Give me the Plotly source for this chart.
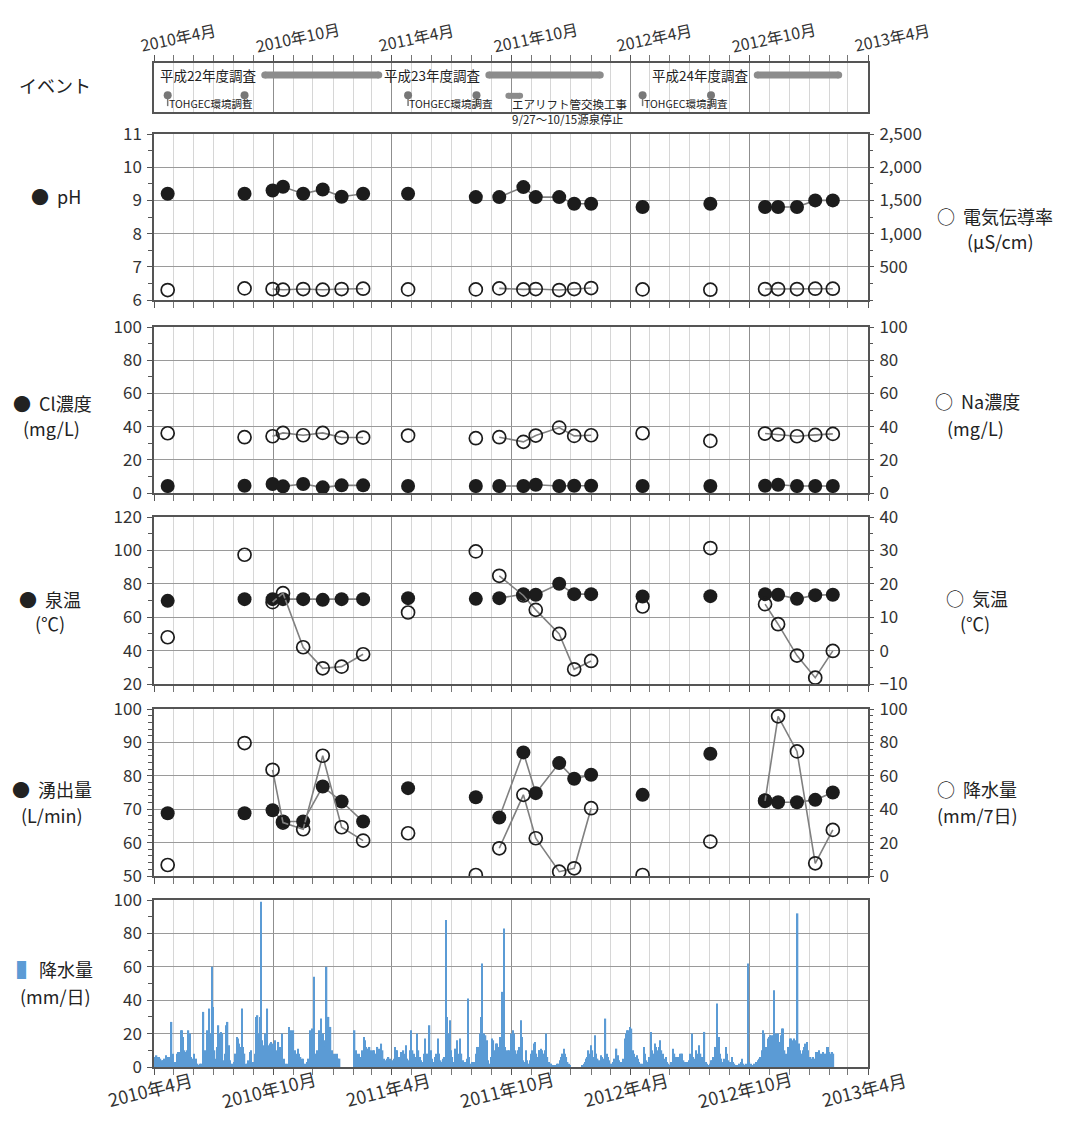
import pandas as pd
import plotly.graph_objects as go

# ---------------- data ----------------
sample_dates = ["2010-04-22", "2010-08-18", "2010-09-30", "2010-10-16", "2010-11-16", "2010-12-16",
                "2011-01-14", "2011-02-16", "2011-04-26", "2011-08-08", "2011-09-13", "2011-10-20",
                "2011-11-08", "2011-12-14", "2012-01-06", "2012-02-01", "2012-04-20", "2012-08-02",
                "2012-10-25", "2012-11-14", "2012-12-13", "2013-01-10", "2013-02-06"]
survey_group = [0, 1, 2, 2, 2, 2, 2, 2, 3, 4, 5, 5, 5, 5, 5, 5, 6, 7, 8, 8, 8, 8, 8]

ph = [9.2, 9.2, 9.3, 9.41, 9.2, 9.33, 9.11, 9.2, 9.2, 9.1, 9.1, 9.4, 9.1, 9.1, 8.9, 8.9,
      8.8, 8.9, 8.8, 8.8, 8.8, 9.0, 9.0]
conductivity = [150, 175, 165, 155, 165, 155, 165, 170, 160, 160, 175, 160, 165, 150, 165, 180,
                160, 155, 165, 165, 165, 170, 170]
cl = [4.2, 4.4, 5.4, 4.0, 5.4, 3.4, 4.6, 4.6, 4.2, 4.2, 4.2, 4.2, 5.0, 4.2, 4.4, 4.4,
      4.2, 4.2, 4.4, 5.0, 4.2, 4.2, 4.2]
na = [36.0, 33.6, 34.2, 36.2, 34.8, 36.2, 33.4, 33.4, 34.6, 33.0, 33.6, 30.8, 34.6, 39.4, 34.4, 34.8,
      36.0, 31.4, 35.8, 35.2, 34.2, 35.0, 35.6]
spring_temp = [69.8, 70.8, 70.8, 70.8, 70.8, 70.4, 70.8, 70.8, 71.4, 71.0, 71.4, 73.8, 73.4, 80.0,
               73.8, 73.8, 72.4, 72.6, 73.8, 73.4, 71.0, 73.2, 73.4]
air_temp = [4.0, 28.7, 14.5, 17.2, 1.0, -5.3, -4.8, -1.1, 11.4, 29.7, 22.4, 16.5, 12.2, 5.0,
            -5.6, -3.1, 13.2, 30.7, 13.9, 7.9, -1.5, -8.1, -0.1]
flow = [68.8, 68.8, 69.7, 66.3, 66.3, 76.8, 72.3, 66.3, 76.3, 73.6, 67.5, 87.0, 74.8, 83.8,
        79.1, 80.3, 74.3, 86.6, 72.7, 72.1, 72.1, 72.8, 75.0]
rain_7day = [6.6, 79.6, 63.6, 32.0, 28.0, 72.0, 29.2, 21.2, 25.6, 0.6, 16.6, 48.6, 22.6, 2.6,
             4.6, 40.6, 0.6, 20.6, 45.0, 95.6, 74.6, 7.6, 27.6]

# daily precipitation: day offset from 2010-04-01 and amount (mm/day)
rain_day = [0, 2, 4, 6, 8, 10, 12, 14, 16, 18, 20, 22, 24, 27, 29, 31, 33, 35, 37, 39, 41, 43, 45, 47, 49,
            51, 53, 55, 57, 59, 61, 63, 65, 67, 69, 71, 73, 76, 78, 80, 82, 84, 85, 87, 89, 91, 93, 95, 97,
            99, 101, 103, 105, 107, 109, 111, 113, 115, 117, 119, 121, 123, 125, 127, 129, 131, 133, 135,
            137, 139, 141, 143, 145, 147, 149, 151, 153, 155, 157, 159, 161, 163, 164, 166, 168, 170, 172,
            174, 176, 178, 180, 182,
            184, 186, 188, 191, 193, 196, 198, 200, 202, 204, 207, 209, 210, 212, 214, 216, 218, 221, 223,
            225, 227, 229, 231, 233, 235, 237, 240, 243, 246, 248, 250, 253, 256, 259, 261, 263, 265, 266,
            268, 271, 273, 275, 278, 281, 283, 285,
            308, 310, 312, 315, 317, 320, 322, 324, 326, 329, 331, 333, 336, 338, 340, 343, 345, 347, 349,
            351, 353, 355, 358, 360, 362, 365, 368,
            370, 372, 373, 375, 377, 379, 380, 383, 385, 387, 389, 391, 393, 395, 397, 399, 401, 404, 406,
            408, 410, 412, 414, 416, 418, 420, 423, 425, 427, 429, 431, 433, 436, 438, 440, 442, 444, 446,
            448, 450, 452, 454, 456, 458, 460, 463, 465, 467, 470, 472, 474, 476, 478, 480, 482, 484, 486,
            488, 490, 492, 494, 496, 498, 500, 502, 504, 505, 507, 509, 511, 513, 515, 517, 519, 521, 523,
            525, 527, 529, 531, 533, 535, 537, 539, 541, 543, 545, 547, 549, 551,
            553, 555, 557, 559, 561, 563, 565, 567, 569, 571, 573, 575, 577, 579, 581, 583, 585, 587, 589,
            591, 592, 594, 596, 598, 600, 602, 604, 606, 608, 610, 612, 614, 616, 619, 621, 623, 625, 627,
            629, 631, 633, 635, 637, 639,
            658, 660, 662, 664, 665, 667, 669, 671, 673, 675, 677, 679, 681, 683, 686, 688, 690, 693, 695,
            697, 699, 701, 703, 705, 707, 709, 710, 712, 714, 716, 718, 720, 723, 725, 726, 728, 731, 733,
            735,
            737, 739, 741, 743, 745, 747, 749, 752, 754, 756, 758, 760, 763, 765, 767, 769, 771, 773, 775,
            777, 779, 781, 783, 786, 788, 790, 792, 794, 797, 799, 801, 803, 805, 807, 809, 811, 813, 815,
            817, 819, 821, 823, 826, 828, 830, 832, 834, 837, 839, 841, 843, 845, 847, 849, 851, 853, 855,
            857, 859, 861, 862, 864, 866, 867, 869, 871, 873, 875, 878, 880, 882, 884, 887, 889, 891, 893,
            895, 897, 899, 901, 903, 905, 907, 909, 912,
            914, 916, 918, 920, 922, 925, 927, 929, 931, 933, 935, 937, 939, 941, 943, 944, 946, 948, 950,
            952, 954, 956, 958, 960, 962, 964, 966, 968, 970, 972, 974, 976, 978, 980, 982, 984, 986, 988,
            990, 992, 994, 996, 998, 1000, 1002, 1004, 1006, 1008, 1010, 1012, 1014, 1016, 1018, 1021,
            1023, 1025, 1027, 1029, 1031, 1033, 1035, 1037, 1039, 1041, 1043]
rain_mm = [6, 6, 7, 6, 6, 5, 4, 4, 5, 7, 6, 4, 6, 27, 8, 3, 3, 8, 9, 9, 22, 22, 18, 10, 9,
           10, 22, 20, 6, 5, 8, 4, 5, 2, 1, 2, 2, 33, 10, 8, 22, 15, 35, 20, 60, 36, 10, 5, 12,
           25, 20, 21, 20, 4, 8, 25, 27, 13, 4, 2, 2, 3, 8, 18, 17, 14, 12, 35,
           12, 8, 2, 2, 4, 9, 10, 2, 3, 8, 30, 31, 20, 30, 99, 16, 13, 20, 18,
           35, 13, 14, 15, 14,
           14, 16, 10, 15, 12, 20, 3, 5, 2, 2, 24, 20, 22, 10, 22, 10, 8, 11, 8,
           6, 5, 5, 2, 2, 3, 5, 22, 23, 54, 8, 10, 22, 29, 20, 16, 12, 60, 20,
           30, 24, 10, 8, 8, 8, 5, 5,
           22, 10, 8, 8, 6, 10, 18, 16, 12, 11, 12, 10, 10, 10, 8, 12, 11, 6, 14,
           10, 5, 4, 5, 6, 5, 4, 5,
           12, 10, 10, 5, 6, 8, 9, 10, 8, 13, 5, 4, 10, 22, 10, 8, 6, 20, 10,
           6, 4, 3, 8, 17, 6, 8, 25, 10, 5, 3, 6, 8, 17, 8, 4, 3, 5, 6,
           88, 30, 20, 28, 10, 6, 3, 11, 16, 8, 17, 8, 4, 2, 3, 5, 41, 6, 2,
           3, 2, 3, 8, 12, 12, 20, 30, 62, 10, 20, 19, 16, 4, 2, 6, 17, 16, 10,
           14, 14, 12, 18, 17, 45, 83, 12, 10, 10, 10, 8, 20, 22,
           20, 10, 8, 10, 12, 28, 18, 4, 3, 10, 4, 2, 4, 8, 10, 14, 15, 8, 6,
           10, 10, 11, 10, 8, 10, 20, 6, 3, 2, 2, 1, 1, 1, 2, 2, 4, 6, 8,
           11, 8, 6, 3, 2, 1,
           1, 2, 3, 5, 6, 10, 8, 13, 10, 6, 19, 8, 5, 4, 7, 6, 5, 29, 8,
           6, 4, 2, 2, 3, 5, 7, 11, 7, 4, 3, 3, 5, 17, 20, 22, 22, 24, 23,
           10,
           8, 6, 7, 5, 3, 2, 2, 12, 8, 4, 3, 6, 21, 10, 8, 14, 12, 10, 12,
           16, 10, 8, 5, 6, 3, 2, 1, 3, 11, 8, 6, 4, 6, 8, 8, 8, 4, 3,
           2, 3, 4, 8, 20, 6, 5, 10, 8, 13, 8, 6, 5, 21, 3, 2, 1, 2, 4,
           4, 6, 8, 12, 38, 18, 18, 8, 5, 3, 5, 12, 8, 4, 3, 6, 3, 2, 1,
           1, 1, 2, 3, 5, 2, 1, 2, 62,
           3, 2, 1, 1, 2, 3, 4, 5, 6, 10, 22, 20, 12, 8, 17, 18, 19, 19, 19,
           46, 20, 20, 20, 15, 19, 23, 23, 10, 8, 6, 12, 17, 17, 16, 17, 16, 14, 92,
           14, 10, 8, 10, 12, 14, 15, 10, 6, 6, 5, 6, 5, 9, 9, 10,
           8, 8, 9, 6, 8, 12, 12, 9, 8, 9, 8]

tick_dates = ["2010-04-01", "2010-10-01", "2011-04-01", "2011-10-01", "2012-04-01", "2012-10-01", "2013-04-01"]
tick_text = ["2010年4月", "2010年10月", "2011年4月", "2011年10月", "2012年4月", "2012年10月", "2013年4月"]

survey_names = ["平成22年度調査", "平成23年度調査", "平成24年度調査"]
survey_start = ["2010-09-18", "2011-08-28", "2012-10-13"]
survey_end = ["2011-03-12", "2012-02-15", "2013-02-15"]
tohgec_first = ["2010-04-22", "2011-04-26", "2012-04-20"]
tohgec_second = ["2010-08-18", "2011-08-09", "2012-08-03"]
tohgec_label = "TOHGEC環境調査"
airlift_period = ["2011-09-27", "2011-10-15"]
airlift_label = "エアリフト管交換工事"
airlift_note = "9/27～10/15源泉停止"

# ---------------- layout helpers ----------------
W, H = 1066, 1122
X0, X1 = 154, 868
FONT = "Noto Sans CJK JP"
TXT = "#222222"
AX = "#555555"
XR = ["2010-04-01", "2013-04-01"]


def py(p):
    return 1 - p / H


panels = {  # top, bottom in px
    "event": (63, 112),
    "ph": (134, 300),
    "cl": (327, 493),
    "temp": (517, 684),
    "flow": (709, 876),
    "rain": (900, 1067),
}


def dom(name):
    t, b = panels[name]
    return [py(b), py(t)]


def xaxis(anchor, side="bottom"):
    return dict(type="date", range=XR, domain=[X0 / W, X1 / W], anchor=anchor, side=side,
                tick0="2010-04-01", dtick="M6", showticklabels=False, automargin=False,
                ticks="outside", ticklen=6, tickcolor=AX, tickwidth=1,
                showgrid=True, gridcolor="#8f8f8f", gridwidth=1,
                minor=dict(dtick="M1", tick0="2010-04-01", showgrid=True, gridcolor="#d6d6d6",
                           gridwidth=1, ticks="outside", ticklen=6, tickcolor="#777777"),
                showline=True, linecolor=AX, linewidth=1.5, mirror=True, zeroline=False,
                fixedrange=True)


TICKFONT = dict(family=FONT, size=17, color="#333333")


def yleft(name, anchor, rng, tickvals, minor_dtick, showgrid=True):
    return dict(domain=dom(name), anchor=anchor, range=rng, tickvals=tickvals, automargin=False,
                ticks="outside", ticklen=5, tickcolor=AX, showgrid=showgrid, gridcolor="#9a9a9a",
                gridwidth=1, zeroline=False, showline=True, linecolor=AX, linewidth=1.5, mirror=True,
                minor=dict(dtick=minor_dtick, ticks="outside", ticklen=4, tickcolor=AX, showgrid=False),
                tickfont=TICKFONT, ticklabelstandoff=2)


def yright(overlay, anchor, rng, tickvals, minor_dtick, fmt=None):
    d = dict(overlaying=overlay, anchor=anchor, side="right", range=rng, tickvals=tickvals,
             automargin=False,
             ticks="outside", ticklen=5, tickcolor=AX, showgrid=False, zeroline=False,
             showline=False,
             minor=dict(dtick=minor_dtick, ticks="outside", ticklen=4, tickcolor=AX, showgrid=False),
             tickfont=TICKFONT, ticklabelstandoff=2)
    if fmt:
        d["tickformat"] = fmt
    return d


fig = go.Figure()

dates = pd.to_datetime(sample_dates)
groups = sorted(set(survey_group))


def add_series(values, xa, ya, filled):
    # connecting lines within each survey campaign
    for g in groups:
        idx = [i for i, gg in enumerate(survey_group) if gg == g]
        if len(idx) > 1:
            fig.add_trace(go.Scatter(x=[dates[i] for i in idx], y=[values[i] for i in idx],
                                     mode="lines", line=dict(color="#808080", width=1.6),
                                     xaxis=xa, yaxis=ya, hoverinfo="skip"))
    if filled:
        mk = dict(symbol="circle", size=14, color="#1c1c1c", line=dict(width=0))
    else:
        mk = dict(symbol="circle-open", size=13, color="#1c1c1c", line=dict(width=1.7))
    fig.add_trace(go.Scatter(x=dates, y=values, mode="markers", marker=mk, xaxis=xa, yaxis=ya))


add_series(conductivity, "x2", "y3", False)
add_series(ph, "x2", "y2", True)
add_series(na, "x3", "y5", False)
add_series(cl, "x3", "y4", True)
add_series(air_temp, "x4", "y7", False)
add_series(spring_temp, "x4", "y6", True)
add_series(rain_7day, "x5", "y9", False)
add_series(flow, "x5", "y8", True)

rain_dates = pd.Timestamp("2010-04-01") + pd.to_timedelta(rain_day, unit="D")
fig.add_trace(go.Bar(x=rain_dates, y=rain_mm, width=2.1 * 86400000, marker=dict(color="#5b9bd5", line=dict(width=0)),
                     xaxis="x6", yaxis="y10"))

# ---------------- event panel ----------------
EV_GRAY = "#8c8c8c"
for s, e in zip(survey_start, survey_end):
    fig.add_trace(go.Scatter(x=[s, e], y=[0.755, 0.755], mode="lines+markers",
                             line=dict(color=EV_GRAY, width=7), marker=dict(size=7, color=EV_GRAY),
                             xaxis="x", yaxis="y"))
for d in tohgec_first + tohgec_second:
    fig.add_trace(go.Scatter(x=[d, d], y=[0.34, 0.12], mode="lines", line=dict(color="#777777", width=1.5),
                             xaxis="x", yaxis="y"))
fig.add_trace(go.Scatter(x=tohgec_first + tohgec_second, y=[0.34] * 6, mode="markers",
                         marker=dict(size=8, color="#777777"), xaxis="x", yaxis="y"))
fig.add_trace(go.Scatter(x=airlift_period, y=[0.33, 0.33], mode="lines+markers",
                         line=dict(color=EV_GRAY, width=6), marker=dict(size=6, color=EV_GRAY),
                         xaxis="x", yaxis="y"))

annotations = []
for name, s in zip(survey_names, survey_start):
    annotations.append(dict(x=s, y=0.755, xref="x", yref="y", text=name, showarrow=False,
                            xanchor="right", yanchor="middle", xshift=-7,
                            font=dict(family=FONT, size=13.5, color=TXT)))
for d in tohgec_first:
    annotations.append(dict(x=d, y=0.17, xref="x", yref="y", text=tohgec_label, showarrow=False,
                            xanchor="left", yanchor="middle", xshift=-1,
                            font=dict(family=FONT, size=10.5, color=TXT)))
annotations.append(dict(x=airlift_period[0], y=0.17, xref="x", yref="y", text=airlift_label, showarrow=False,
                        xanchor="left", yanchor="middle", xshift=2,
                        font=dict(family=FONT, size=11.5, color=TXT)))
annotations.append(dict(x=airlift_period[0], y=py(119), xref="x", yref="paper", text=airlift_note,
                        showarrow=False, xanchor="left", yanchor="middle", xshift=2,
                        font=dict(family=FONT, size=11.5, color=TXT)))

# x tick labels (top and bottom)
for d, t in zip(tick_dates, tick_text):
    annotations.append(dict(x=d, y=py(37), xref="x", yref="paper", text=t, showarrow=False,
                            textangle=-12, xanchor="center", yanchor="middle", xshift=24,
                            font=dict(family=FONT, size=16, color="#333333")))
    annotations.append(dict(x=d, y=py(1089), xref="x6", yref="paper", text=t, showarrow=False,
                            textangle=-14, xanchor="center", yanchor="middle", xshift=-4,
                            font=dict(family=FONT, size=18, color="#333333")))

# side labels
side_labels = [
    ("イベント", 55, 85), ("●  pH", 56, 196),
    ("●  Cl濃度", 52, 403), ("(mg/L)", 51, 428),
    ("●  泉温", 50, 599), ("(℃)", 50, 623),
    ("●  湧出量", 52, 789), ("(L/min)", 52, 815),
    ('<span style="color:#5b9bd5">▌</span> 降水量', 55, 969), ("(mm/日)", 55, 996),
    ("○  電気伝導率", 995, 216), ("(μS/cm)", 1000, 241),
    ("○  Na濃度", 977, 401), ("(mg/L)", 975, 428),
    ("○  気温", 977, 598), ("(℃)", 975, 623),
    ("○  降水量", 977, 789), ("(mm/7日)", 977, 815),
]
for t, x, y in side_labels:
    annotations.append(dict(x=x / W, y=py(y), xref="paper", yref="paper", text=t, showarrow=False,
                            xanchor="center", yanchor="middle",
                            font=dict(family=FONT, size=18, color=TXT)))

fig.update_layout(
    width=W, height=H, margin=dict(l=0, r=0, t=0, b=0, pad=0), autosize=False,
    paper_bgcolor="white", plot_bgcolor="white", showlegend=False,
    font=dict(family=FONT, color=TXT),
    xaxis=xaxis("y", side="top"),
    yaxis=dict(domain=dom("event"), anchor="x", range=[0, 1], showticklabels=False, ticks="",
               showgrid=False, zeroline=False, showline=True, linecolor=AX, linewidth=1.5, mirror=True,
               fixedrange=True, automargin=False),
    xaxis2=xaxis("y2"), xaxis3=xaxis("y4"), xaxis4=xaxis("y6"), xaxis5=xaxis("y8"), xaxis6=xaxis("y10"),
    yaxis2=yleft("ph", "x2", [6, 11], [6, 7, 8, 9, 10, 11], 0.5),
    yaxis3=yright("y2", "x2", [0, 2500], [500, 1000, 1500, 2000, 2500], 250, fmt=","),
    yaxis4=yleft("cl", "x3", [0, 100], [0, 20, 40, 60, 80, 100], 10),
    yaxis5=yright("y4", "x3", [0, 100], [0, 20, 40, 60, 80, 100], 10),
    yaxis6=yleft("temp", "x4", [20, 120], [20, 40, 60, 80, 100, 120], 10),
    yaxis7=yright("y6", "x4", [-10, 40], [-10, 0, 10, 20, 30, 40], 5),
    yaxis8=yleft("flow", "x5", [50, 100], [50, 60, 70, 80, 90, 100], 2),
    yaxis9=yright("y8", "x5", [0, 100], [0, 20, 40, 60, 80, 100], 4),
    yaxis10=yleft("rain", "x6", [0, 100], [0, 20, 40, 60, 80, 100], 10),
    annotations=annotations,
)

fig.write_html("out.html")
